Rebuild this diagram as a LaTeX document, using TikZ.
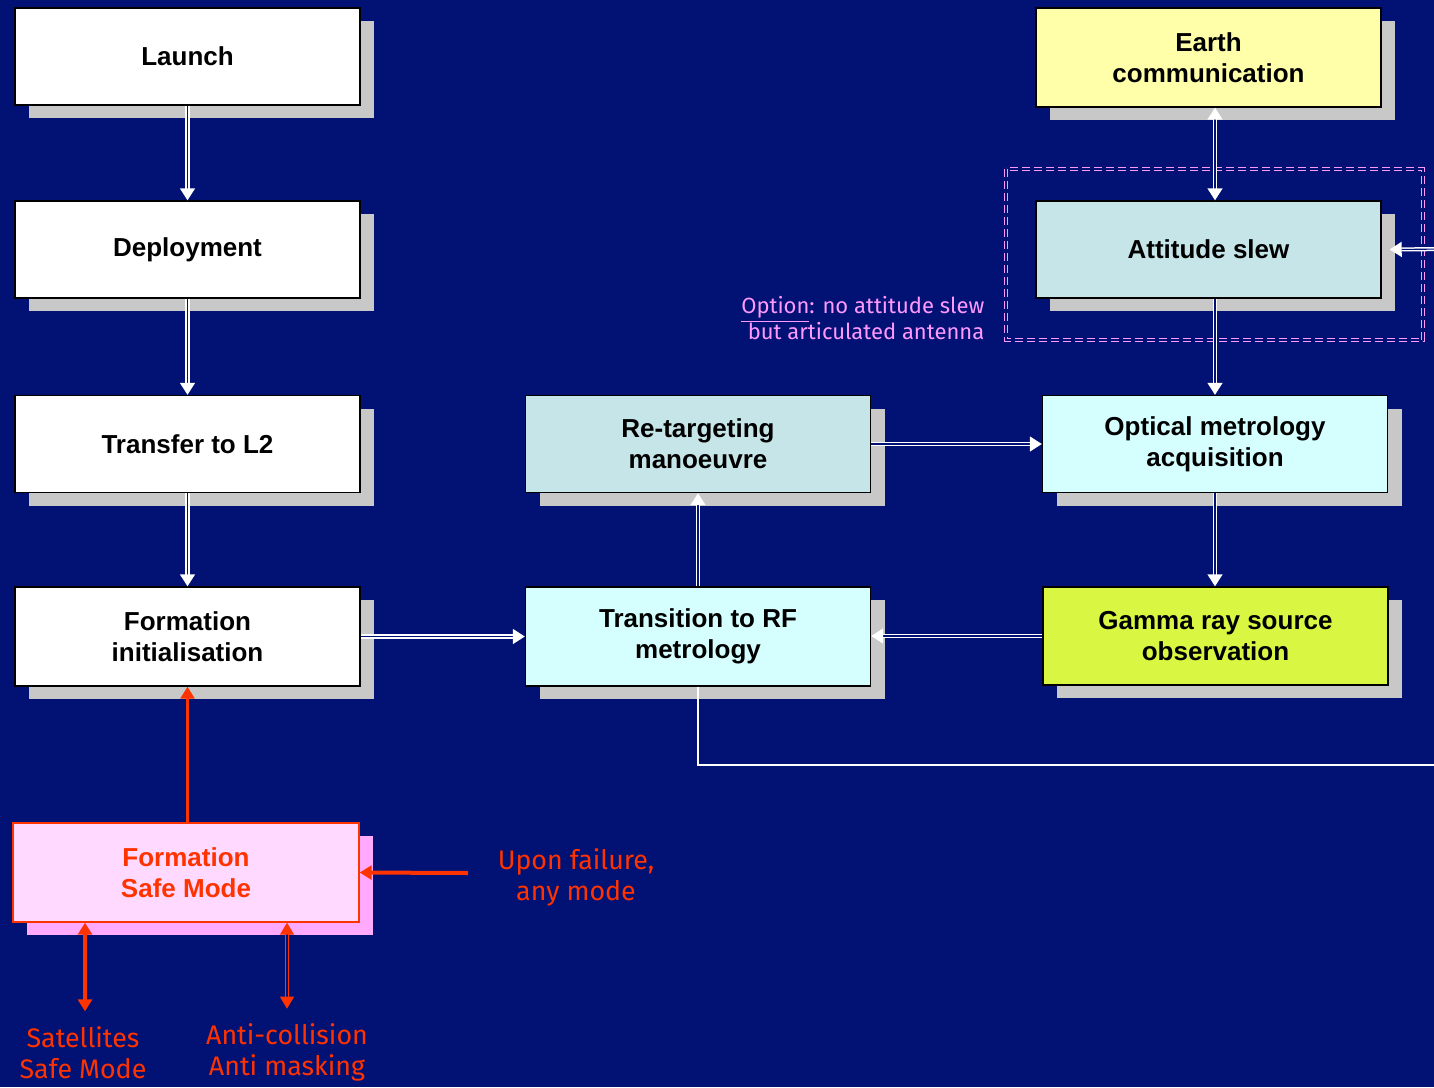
\documentclass[tikz,border=0pt]{standalone}
\usepackage{fontspec}
\setmainfont{Liberation Sans}
\newfontfamily\comicfont{Fira Sans}
\usetikzlibrary{arrows.meta,shadows}

\definecolor{bgblue}{RGB}{2,17,116}
\definecolor{shadowgray}{RGB}{200,200,200}
\definecolor{safeshadow}{RGB}{255,170,255}
\definecolor{safefill}{RGB}{255,217,255}
\definecolor{slewblue}{RGB}{197,229,232}
\definecolor{cyanpale}{RGB}{213,255,255}
\definecolor{earthyellow}{RGB}{255,255,170}
\definecolor{gammagreen}{RGB}{217,246,66}
\definecolor{optionpink}{RGB}{255,153,255}
\definecolor{failred}{RGB}{255,51,0}

\tikzset{every picture/.style={line width=0.75pt}}
\tikzset{
  modebox/.style={draw=black, line width=0.7pt, minimum width=172.5pt, minimum height=48.5pt,
    inner sep=0pt, align=center, font=\fontsize{13}{15.5}\selectfont\bfseries,
    drop shadow={shadow xshift=7pt, shadow yshift=-6.5pt, fill=shadowgray, opacity=1}},
  safebox/.style={modebox, draw=failred, fill=safefill, text=failred, minimum width=173pt, minimum height=49.5pt,
    drop shadow={shadow xshift=7pt, shadow yshift=-6.5pt, fill=safeshadow, opacity=1}},
  whitetip/.tip={Triangle[length=6pt,width=7.5pt,fill=white]},
  flow/.style={draw=white, line width=0.75pt, double=bgblue, double distance=0.55pt, -whitetip},
  loopline/.style={draw=white, line width=0.7pt},
  optionframe/.style={draw=optionpink, line width=0.6pt, double=bgblue, double distance=0.9pt,
    dash pattern=on 4pt off 2pt},
  redtip/.tip={Triangle[length=6pt,width=7pt,fill=failred]},
  redline/.style={draw=failred, line width=1.3pt, -redtip},
  redboth/.style={draw=failred, line width=1.6pt, redtip-redtip},
  reddouble/.style={draw=failred, line width=0.6pt, double=bgblue, double distance=0.6pt, redtip-redtip},
  redtext/.style={text=failred, align=center, inner sep=0pt, font=\comicfont\fontsize{13.4}{15.8}\selectfont},
  optiontext/.style={text=optionpink, align=right, inner sep=0pt, font=\comicfont\fontsize{11}{13}\selectfont}
}

\begin{document}
\begin{tikzpicture}[x=0.5pt,y=-0.5pt]
\fill[bgblue] (0,0) rectangle (1434,1087);
\useasboundingbox (0,0) rectangle (1434,1087);
\clip (0,0) rectangle (1434,1087);

%Dashed frame round the attitude slew
\draw[optionframe] (1006,169) rectangle (1423,340);

% Mode boxes
\node[modebox, fill=white] (launch) at (187.5,56.5) {Launch};
\node[modebox, fill=white] (deploy) at (187.5,249.5) {Deployment};
\node[modebox, fill=white] (transfer) at (187.5,444) {Transfer to L2};
\node[modebox, fill=white, minimum height=49.5pt] (forminit) at (187.5,636.5) {Formation\\initialisation};
\node[safebox] (safe) at (186,872.5) {Formation\\Safe Mode};
\node[modebox, fill=slewblue] (retarget) at (698,444) {Re-targeting\\manoeuvre};
\node[modebox, fill=cyanpale, minimum height=49.5pt] (rfmetro) at (698,636.5) {Transition to RF\\metrology};
\node[modebox, fill=earthyellow, minimum height=49.5pt] (earth) at (1208.5,57.5) {Earth\\communication};
\node[modebox, fill=slewblue] (slew) at (1208.5,249.5) {Attitude slew};
\node[modebox, fill=cyanpale] (optical) at (1215,444) {Optical metrology\\acquisition};
\node[modebox, fill=gammagreen, minimum height=49pt] (gamma) at (1215.5,636) {Gamma ray source\\observation};

% Text Node
\node[optiontext, anchor=east] (option) at (985,318) {\underline{Option}: no attitude slew\\but articulated antenna};
% Text Node
\node[redtext] (failure) at (576,877.5) {Upon failure,\\any mode};
% Text Node
\node[redtext] (satsafe) at (83,1052.5) {Satellites\\Safe Mode};
% Text Node
\node[redtext] (anticoll) at (287,1052.5) {Anti-collision\\Anti masking};

\coordinate (failstart) at (468,873);
\coordinate (loopcorner) at (1450,765);
\coordinate (loopback) at (1450,249);

% Connectors
\draw[flow] (launch) -- (deploy);
\draw[flow] (deploy) -- (transfer);
\draw[flow] (transfer) -- (forminit);
\draw[flow] (forminit.east) -- (rfmetro.west);
\draw[flow] (rfmetro.north) -- (retarget.south);
\draw[flow] (retarget.east) -- (retarget.east -| optical.west);
\draw[flow, whitetip-whitetip] (earth.south -| optical.north) -- (slew.north -| optical.north);
\draw[flow] (slew.south -| optical.north) -- (optical.north);
\draw[flow] (optical.south) -- (optical.south |- gamma.north);
\draw[flow] (gamma.west) -- (gamma.west -| rfmetro.east);
\draw[loopline] (rfmetro.south) |- (loopcorner);
\draw[flow] (loopback) -- ([xshift=4pt]slew.east);

% Failure connectors
\draw[redline] (safe.north -| forminit.south) -- (forminit.south);
\draw[redline, line width=2pt] (failstart) -- (safe.east);
\draw[redboth] (safe.south -| 85,0) -- ([yshift=7pt]satsafe.north -| 85,0);
\draw[reddouble] (safe.south -| anticoll.north) -- ([yshift=7pt]anticoll.north);

\end{tikzpicture}
\end{document}
